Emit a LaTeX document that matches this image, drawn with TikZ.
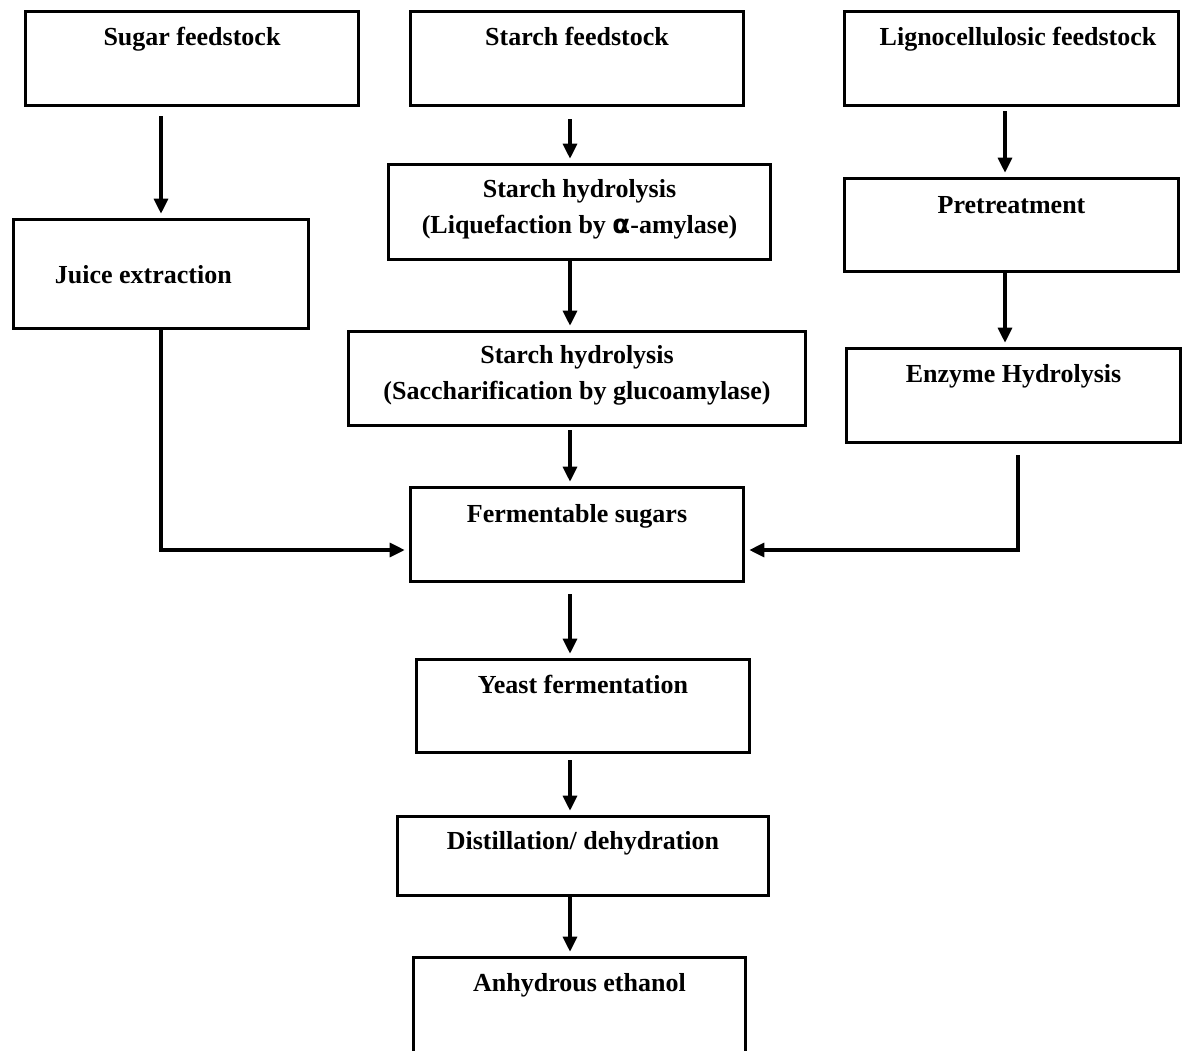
\documentclass[tikz,border=0pt]{standalone}
\usepackage{fontspec}
\setmainfont{Liberation Serif}
\newfontfamily\greekfont{DejaVu Sans}
\usetikzlibrary{arrows.meta}

\tikzset{
  stage/.style={draw, line width=3.6pt, inner sep=0pt},
  caption/.style={font=\fontsize{26}{36}\selectfont\bfseries, align=center, inner sep=0pt, anchor=base},
  flow/.style={line width=3.2pt, shorten >=4pt, -{Triangle[length=15pt, width=14pt]}},
}

\begin{document}
\begin{tikzpicture}[x=1pt, y=-1pt]

    \clip (0,0) rectangle (1189,1050);

    % Feedstock row
    \node at (192, 58.5) (sugar) [stage, minimum width=333, minimum height=94,
        label={[caption, yshift=-36pt]north:Sugar feedstock}] {};
    \node at (577, 58.5) (starch) [stage, minimum width=333, minimum height=94,
        label={[caption, yshift=-36pt]north:Starch feedstock}] {};
    \node at (1011.5, 58.5) (ligno) [stage, minimum width=334, minimum height=94,
        label={[caption, yshift=-36pt, xshift=6.5pt]north:Lignocellulosic feedstock}] {};

    % Pre-processing
    \node at (161, 274) (juice) [stage, minimum width=295, minimum height=109,
        label={[caption, anchor=base west, xshift=43pt, yshift=-9pt]west:Juice extraction}] {};
    \node at (579.5, 212) (liquef) [stage, minimum width=382, minimum height=95,
        label={[caption, yshift=-71pt]north:Starch hydrolysis\\(Liquefaction by {\greekfont α}-amylase)}] {};
    \node at (1011.5, 225) (pretreat) [stage, minimum width=334, minimum height=93,
        label={[caption, yshift=-37pt]north:Pretreatment}] {};
    \node at (577, 378.5) (sacch) [stage, minimum width=457, minimum height=94,
        label={[caption, yshift=-70pt]north:Starch hydrolysis\\(Saccharification by glucoamylase)}] {};
    \node at (1013.5, 395.5) (enzyme) [stage, minimum width=334, minimum height=94,
        label={[caption, yshift=-36pt]north:Enzyme Hydrolysis}] {};

    % Main line
    \node at (577, 534.5) (ferm) [stage, minimum width=333, minimum height=94,
        label={[caption, yshift=-37pt]north:Fermentable sugars}] {};
    \node at (583, 706) (yeast) [stage, minimum width=333, minimum height=93,
        label={[caption, yshift=-36pt]north:Yeast fermentation}] {};
    \node at (583, 856) (distill) [stage, minimum width=371, minimum height=79,
        label={[caption, yshift=-35pt]north:Distillation/ dehydration}] {};
    \node at (579.5, 1018) (ethanol) [stage, minimum width=332, minimum height=121,
        label={[caption, yshift=-36pt]north:Anhydrous ethanol}] {};

    % Guide coordinates for the arrows
    \coordinate (spine) at (570, 0);
    \coordinate (rspine) at (1005, 0);
    \coordinate (merge) at (1018, 550);

    % Arrows down the columns
    \draw[flow, shorten <=9pt] (sugar.south -| juice) -- (juice.north);
    \draw[flow, shorten <=12pt] (starch.south -| spine) -- (liquef.north -| spine);
    \draw[flow, shorten <=4pt] (ligno.south -| rspine) -- (pretreat.north -| rspine);
    \draw[flow] (liquef.south -| spine) -- (sacch.north -| spine);
    \draw[flow] (pretreat.south -| rspine) -- (enzyme.north -| rspine);
    \draw[flow, shorten <=3pt] (sacch.south -| spine) -- (ferm.north -| spine);

    % Arrows joining at the sugars
    \draw[flow] (juice.south) |- (ferm.west |- merge);
    \draw[flow, shorten <=11pt] (enzyme.south -| merge) |- (ferm.east |- merge);

    % Arrows down to the product
    \draw[flow, shorten <=11pt] (ferm.south -| spine) -- (yeast.north -| spine);
    \draw[flow, shorten <=6pt] (yeast.south -| spine) -- (distill.north -| spine);
    \draw[flow] (distill.south -| spine) -- (ethanol.north -| spine);

\end{tikzpicture}
\end{document}
